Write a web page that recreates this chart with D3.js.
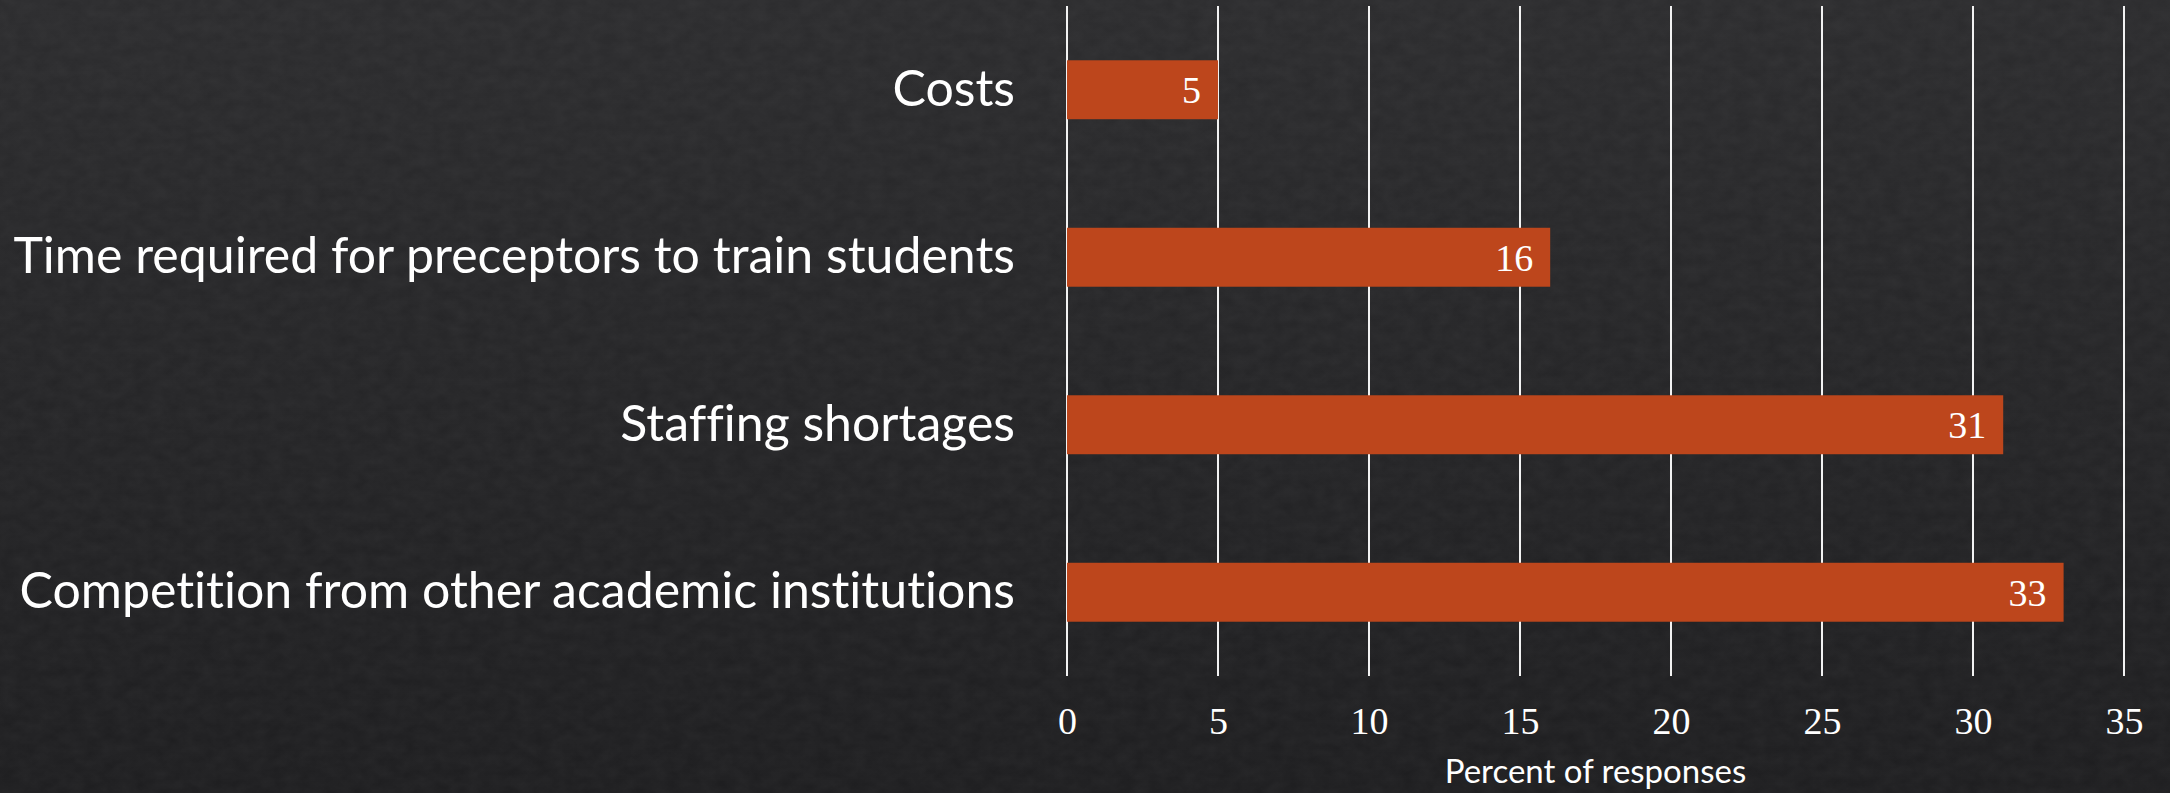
<!DOCTYPE html>
<html>
<head>
<meta charset="utf-8">
<script src="https://cdn.jsdelivr.net/npm/d3@7"></script>
<style>
  html, body { margin: 0; padding: 0; background: #232325; }
  svg { display: block; }
  .sans { font-variant-ligatures: none; font-feature-settings: "liga" 0; }
</style>
</head>
<body>
<svg id="chart" width="2170" height="793"></svg>
<script>
// Barriers to placing students — share of responses
const categories = [
  "Costs",
  "Time required for preceptors to train students",
  "Staffing shortages",
  "Competition from other academic institutions"
];
const percents = [5, 16, 31, 33];
const tickValues = [0, 5, 10, 15, 20, 25, 30, 35];
const axisTitle = "Percent of responses";

const W = 2170, H = 793;
const svg = d3.select("#chart");
const defs = svg.append("defs");

// dark slate background, slightly lighter at the top
const grad = defs.append("linearGradient")
  .attr("id", "bg").attr("x1", 0).attr("y1", 0).attr("x2", 0).attr("y2", 1);
grad.append("stop").attr("offset", "0%").attr("stop-color", "#2b2b2d");
grad.append("stop").attr("offset", "100%").attr("stop-color", "#1d1d1f");

// faint chalkboard grain
const grain = defs.append("filter").attr("id", "grain")
  .attr("x", 0).attr("y", 0).attr("width", "100%").attr("height", "100%");
grain.append("feTurbulence")
  .attr("type", "fractalNoise").attr("baseFrequency", "0.06 0.09")
  .attr("numOctaves", 3).attr("seed", 7).attr("result", "noise");
grain.append("feColorMatrix").attr("in", "noise").attr("type", "matrix")
  .attr("values", "0 0 0 0 1  0 0 0 0 1  0 0 0 0 1  0 0 0 0.045 0");

svg.append("rect").attr("width", W).attr("height", H).attr("fill", "url(#bg)");
svg.append("rect").attr("width", W).attr("height", H).attr("filter", "url(#grain)");

const x = d3.scaleLinear().domain([0, 35]).range([1067, 2124]);
const y = d3.scaleBand().domain(categories).range([6, 676])
  .paddingInner(0.648).paddingOuter(0.324);

// vertical gridlines
svg.append("g").selectAll("line").data(tickValues).join("line")
  .attr("x1", d => x(d)).attr("x2", d => x(d))
  .attr("y1", 6).attr("y2", 676)
  .attr("stroke", "#f2f2f2").attr("stroke-width", 2);

// tick labels under the grid
const xAxis = d3.axisBottom(x).tickValues(tickValues).tickSize(0).tickPadding(0)
  .tickFormat(d3.format("d"));
const gx = svg.append("g").attr("transform", "translate(0,707)").call(xAxis);
gx.select(".domain").remove();
gx.selectAll("text")
  .attr("fill", "#ffffff")
  .attr("dy", "0.71em")
  .style("font-family", "'Liberation Serif', 'Times New Roman', serif")
  .style("font-size", "38px");

// bars
svg.append("g").selectAll("rect").data(percents).join("rect")
  .attr("x", x(0))
  .attr("y", (d, i) => y(categories[i]))
  .attr("width", d => x(d) - x(0))
  .attr("height", y.bandwidth())
  .attr("fill", "#bd461c");

// value labels inside bar ends
svg.append("g").selectAll("text").data(percents).join("text")
  .attr("x", d => x(d) - 17)
  .attr("y", (d, i) => y(categories[i]) + y.bandwidth() / 2)
  .attr("dy", "0.35em")
  .attr("text-anchor", "end")
  .attr("fill", "#ffffff")
  .style("font-family", "'Liberation Serif', 'Times New Roman', serif")
  .style("font-size", "38px")
  .text(d => d);

// category labels
const yAxis = d3.axisLeft(y).tickSize(0).tickPadding(52);
const gy = svg.append("g").attr("transform", `translate(${x(0)},0)`).call(yAxis);
gy.select(".domain").remove();
gy.selectAll("text")
  .attr("class", "sans")
  .attr("fill", "#ffffff")
  .style("font-family", "Lato, 'Open Sans', sans-serif")
  .style("font-size", "50px");

// axis title
svg.append("text")
  .attr("class", "sans")
  .attr("x", (x(0) + x(35)) / 2)
  .attr("y", 783)
  .attr("text-anchor", "middle")
  .attr("fill", "#ffffff")
  .style("font-family", "Lato, 'Open Sans', sans-serif")
  .style("font-size", "33px")
  .text(axisTitle);
</script>
</body>
</html>
